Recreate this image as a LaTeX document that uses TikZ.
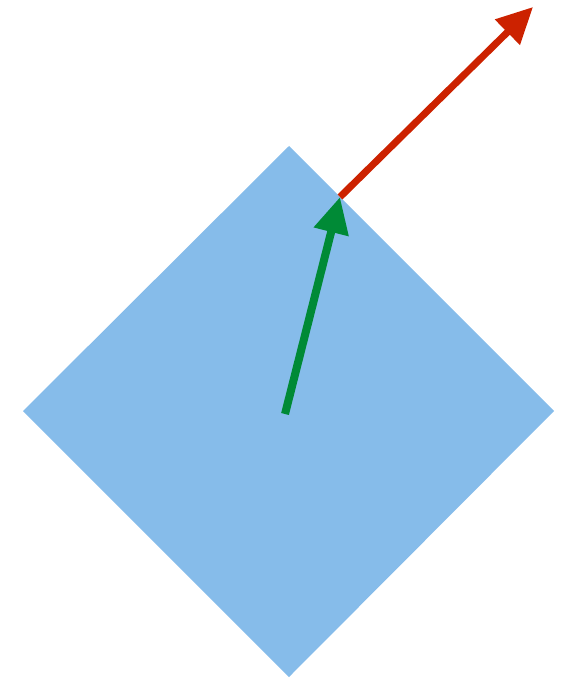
\documentclass[tikz,border=0pt]{standalone}
\usetikzlibrary{arrows.meta}
\definecolor{diamondblue}{HTML}{86BCEA}
\definecolor{arrowgreen}{HTML}{008A36}
\definecolor{arrowred}{HTML}{CC2200}
\begin{document}
\begin{tikzpicture}[x=1pt,y=-1pt,
  vecgreen/.style={draw=arrowgreen,line width=8pt,-{Triangle[length=36pt,width=34pt]}},
  vecred/.style={draw=arrowred,line width=7pt,-{Triangle[length=36pt,width=34pt]}}]
\useasboundingbox (0,0) rectangle (571,679);
\coordinate (T) at (289,146);
\coordinate (R) at (554,411);
\coordinate (B) at (289,677);
\coordinate (L) at (23,411);
\fill[diamondblue] (T) -- (R) -- (B) -- (L) -- cycle;
\coordinate (c) at (285,414);
\coordinate (p) at (340,197);
\coordinate (q) at (533,7);
\draw[vecred] (p) -- (q);
\draw[vecgreen] (c) -- (p);
\end{tikzpicture}
\end{document}
